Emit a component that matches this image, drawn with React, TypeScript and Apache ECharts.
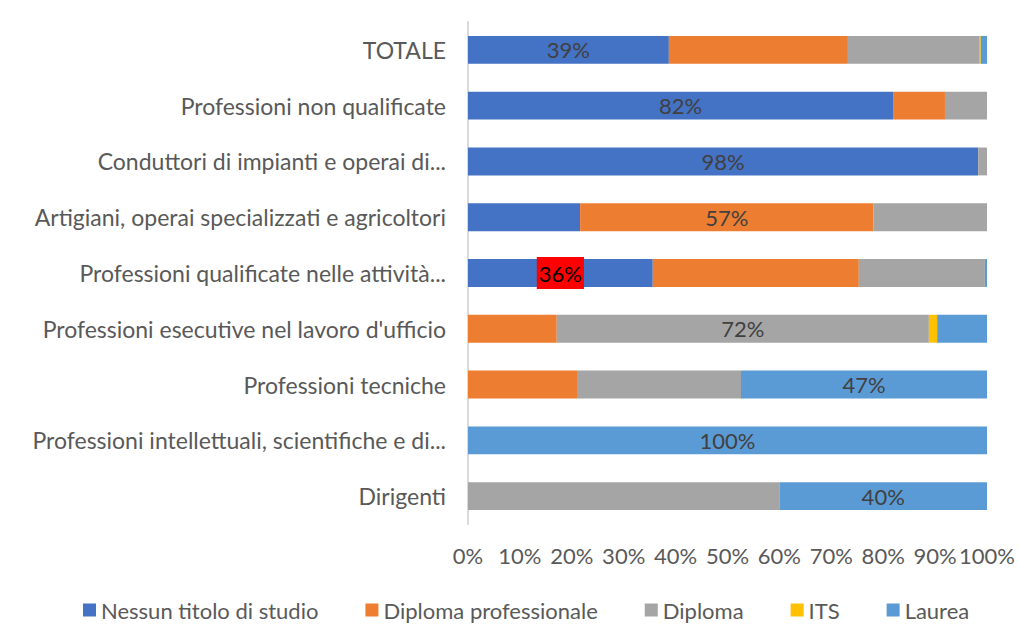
import React, { useEffect, useRef } from "react";
import * as echarts from "echarts";

const categories = [
  "TOTALE",
  "Professioni non qualificate",
  "Conduttori di impianti e operai di...",
  "Artigiani, operai specializzati e agricoltori",
  "Professioni qualificate nelle attività...",
  "Professioni esecutive nel lavoro d'ufficio",
  "Professioni tecniche",
  "Professioni intellettuali, scientifiche e di...",
  "Dirigenti",
];

const seriesNames = ["Nessun titolo di studio", "Diploma professionale", "Diploma", "ITS", "Laurea"];

const nessun = [38.7, 81.9, 98.3, 21.6, 35.6, 0, 0, 0, 0];
const diplomaProf = [34.5, 10.0, 0, 56.5, 39.7, 17.1, 21.0, 0, 0];
const diploma = [25.4, 8.1, 1.7, 21.9, 24.3, 71.7, 31.6, 0, 60.0];
const its = [0.2, 0, 0, 0, 0, 1.6, 0, 0, 0];
const laurea = [1.2, 0, 0, 0, 0.4, 9.6, 47.4, 100, 40.0];

// index of the series whose value is labelled on each row
const labelledSeries = [0, 0, 0, 1, 0, 2, 4, 4, 4];
const highlightedRow = 4;

const xTicks = [0, 10, 20, 30, 40, 50, 60, 70, 80, 90, 100];

const colors = ["#4472C4", "#ED7D31", "#A5A5A5", "#FFC000", "#5B9BD5"];
const FONT = "Lato, Liberation Sans, sans-serif";
const FS = 22;

export default function App() {
  const ref = useRef<HTMLDivElement>(null);
  useEffect(() => {
    if (!ref.current) return;
    const chart = echarts.init(ref.current, undefined, { renderer: "svg" });
    const all = [nessun, diplomaProf, diploma, its, laurea];
    const series = all.map((vals, si) => ({
      name: seriesNames[si],
      type: "bar",
      stack: "total",
      barWidth: "50%",
      itemStyle: { color: colors[si] },
      data: vals.map((v, ci) => {
        const item: any = { value: v };
        if (labelledSeries[ci] === si) {
          const hl = ci === highlightedRow;
          item.label = {
            show: true,
            position: "inside",
            formatter: (p: any) => Math.round(p.value) + "%",
            color: hl ? "#000000" : "#404040",
            fontSize: FS,
            fontFamily: FONT,
            backgroundColor: hl ? "#FF0000" : "transparent",
            padding: hl ? [6, 2, 4, 2] : 0,
          };
        }
        return item;
      }),
    }));
    chart.setOption({
      animation: false,
      color: colors,
      textStyle: { fontFamily: FONT },
      grid: { left: 468, right: 32, top: 22, bottom: 102, containLabel: false },
      xAxis: {
        type: "value",
        min: xTicks[0],
        max: xTicks[xTicks.length - 1],
        interval: 10,
        axisLine: { show: false },
        axisTick: { show: false },
        splitLine: { show: false },
        axisLabel: {
          formatter: "{value}%",
          color: "#595959",
          fontSize: FS,
          fontFamily: FONT,
          margin: 20,
        },
      },
      yAxis: {
        type: "category",
        data: categories,
        inverse: true,
        axisTick: { show: false },
        axisLine: { show: true, lineStyle: { color: "#D9D9D9", width: 2 } },
        axisLabel: {
          color: "#595959",
          fontSize: 23,
          fontFamily: FONT,
          margin: 22,
        },
      },
      legend: {
        top: 594,
        left: 78,
        itemWidth: 13,
        itemHeight: 13,
        itemGap: 47,
        icon: "rect",
        textStyle: { color: "#595959", fontSize: FS, fontFamily: FONT },
        data: seriesNames,
      },
      series,
    });
    return () => chart.dispose();
  }, []);
  return (
    <div
      ref={ref}
      style={{ position: "absolute", left: 0, top: 0, width: 1019, height: 626 }}
    />
  );
}
